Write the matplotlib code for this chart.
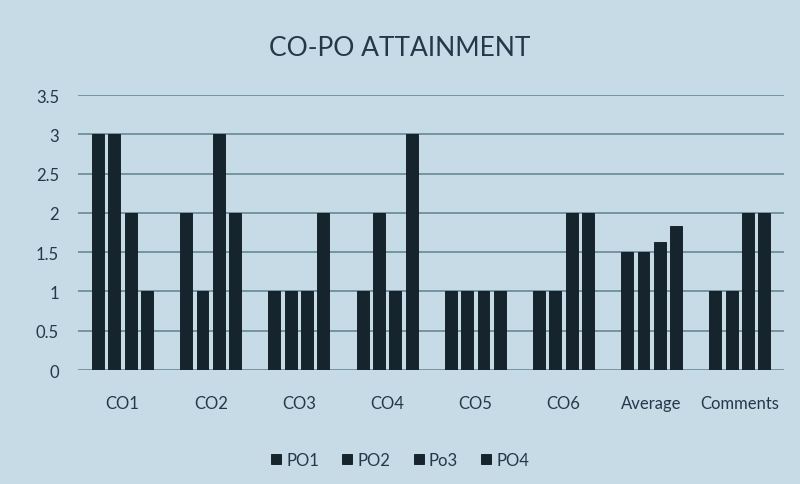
import numpy as np
import matplotlib.pyplot as plt

plt.rcParams['font.family'] = ['Lato', 'DejaVu Sans']

categories = ["CO1", "CO2", "CO3", "CO4", "CO5", "CO6", "Average", "Comments"]
series = ["PO1", "PO2", "Po3", "PO4"]
po1 = [3, 2, 1, 1, 1, 1, 1.5, 1]
po2 = [3, 1, 1, 2, 1, 1, 1.5, 1]
po3 = [2, 3, 1, 1, 1, 2, 1.63, 2]
po4 = [1, 2, 2, 3, 1, 2, 1.83, 2]
yticks = [0, 0.5, 1, 1.5, 2, 2.5, 3, 3.5]
ytick_labels = ["0", "0.5", "1", "1.5", "2", "2.5", "3", "3.5"]

bg = "#c6dbe6"
bar_col = "#16242d"
text_col = "#22394a"
grid_col = "#5f8190"

fig = plt.figure(figsize=(8, 4.85), dpi=100, facecolor=bg)
ax = fig.add_axes([0.098, 0.235, 0.882, 0.567], facecolor=bg)

x = np.arange(len(categories))
width = 0.135
step = 0.185
for i, vals in enumerate([po1, po2, po3, po4]):
    ax.bar(x + (i - 1.5) * step, vals, width, color=bar_col, label=series[i],
           edgecolor="#0c161c", linewidth=0.6, zorder=3)

ax.set_xlim(-0.5, len(categories) - 0.5)
ax.set_ylim(0, 3.5)
ax.set_yticks(yticks)
ax.set_yticklabels(ytick_labels)
ax.yaxis.grid(True, color=grid_col, linewidth=1.1, zorder=0)
ax.set_axisbelow(True)
for s in ax.spines.values():
    s.set_visible(False)
ax.tick_params(axis="both", length=0, colors=text_col, labelsize=12)
ax.tick_params(axis="y", pad=14)
ax.tick_params(axis="x", pad=18)
ax.set_xticks(x)
ax.set_xticklabels(categories)

fig.text(0.5, 0.9, "CO-PO ATTAINMENT", ha="center", va="center",
         fontsize=19, color=text_col)

fig.legend(loc="center", bbox_to_anchor=(0.5, 0.05), ncol=4, frameon=False,
           fontsize=12, labelcolor=text_col, handlelength=0.6, handleheight=0.6,
           handletextpad=0.3, columnspacing=1.4)

fig.savefig("out.png", dpi=100, facecolor=bg)
